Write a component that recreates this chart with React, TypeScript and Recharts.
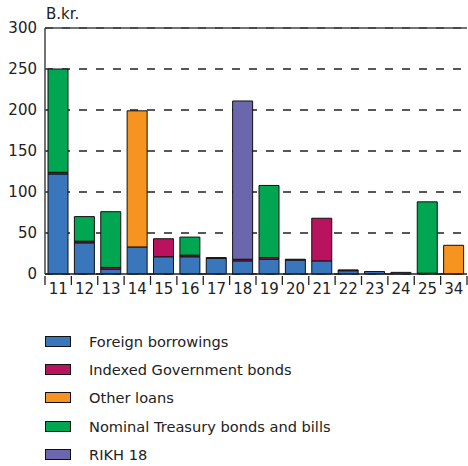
import { BarChart, Bar, XAxis, YAxis, CartesianGrid, ReferenceLine } from "recharts";

const categories = ["11", "12", "13", "14", "15", "16", "17", "18", "19", "20", "21", "22", "23", "24", "25", "34"];
const foreign = [122, 38, 6, 33, 21, 21, 19, 16, 18, 17, 16, 4, 3, 2, 1, 0];
const indexed = [2, 2, 2, 0, 22, 2, 1, 2, 2, 1, 52, 1, 0, 0, 0, 0];
const otherLoans = [0, 0, 0, 166, 0, 0, 0, 0, 0, 0, 0, 0, 0, 0, 0, 35];
const nominal = [126, 30, 68, 0, 0, 22, 0, 0, 88, 0, 0, 0, 0, 0, 87, 0];
const rikh = [0, 0, 0, 0, 0, 0, 0, 193, 0, 0, 0, 0, 0, 0, 0, 0];
const yTicks = [0, 50, 100, 150, 200, 250, 300];

const series = [
  { key: "foreign", name: "Foreign borrowings", color: "#3a76bb" },
  { key: "indexed", name: "Indexed Government bonds", color: "#b8135c" },
  { key: "other", name: "Other loans", color: "#f6941f" },
  { key: "nominal", name: "Nominal Treasury bonds and bills", color: "#00a651" },
  { key: "rikh", name: "RIKH 18", color: "#6c66ad" },
];

const data = categories.map((c, i) => ({
  name: c,
  foreign: foreign[i],
  indexed: indexed[i],
  other: otherLoans[i],
  nominal: nominal[i],
  rikh: rikh[i],
}));

const FONT = "'DejaVu Sans', sans-serif";
const CHART_W = 468;
const LEFT = 45;
const RIGHT = 1;
const BAND = (CHART_W - LEFT - RIGHT) / categories.length;

// eslint-disable-next-line @typescript-eslint/no-explicit-any
const XTick = ({ x, y, payload, index }: any) => {
  const isLast = index === categories.length - 1;
  return (
    <g>
      <line x1={x - BAND / 2} x2={x - BAND / 2} y1={y - 8} y2={y + 1} stroke="#222" strokeWidth={1.3} />
      {isLast && <line x1={x + BAND / 2} x2={x + BAND / 2} y1={y - 8} y2={y + 1} stroke="#222" strokeWidth={1.3} />}
      <text x={x} y={y + 10} textAnchor="middle" fill="#222" fontSize={15} fontFamily={FONT}>
        {payload.value}
      </text>
    </g>
  );
};

export default function App() {
  return (
    <div style={{ position: "absolute", left: 0, top: 0, width: 468, height: 466, background: "#fff", fontFamily: FONT }}>
      <div style={{ position: "absolute", left: 46, top: 5, fontSize: 15, color: "#222" }}>B.kr.</div>
      <BarChart
        width={CHART_W}
        height={310}
        data={data}
        margin={{ top: 28, right: RIGHT, left: 0, bottom: 10 }}
        barSize={20}
      >
        <CartesianGrid vertical={false} stroke="#222" strokeDasharray="8 9" strokeWidth={1.4} />
        <ReferenceLine y={300} stroke="#444" strokeWidth={1.5} />
        <XAxis
          dataKey="name"
          tickLine={false}
          tickSize={8}
          axisLine={{ stroke: "#222", strokeWidth: 1.5 }}
          tick={<XTick />}
          interval={0}
          height={26}
        />
        <YAxis
          width={LEFT}
          domain={[0, 300]}
          ticks={yTicks}
          tickLine={false}
          axisLine={{ stroke: "#444", strokeWidth: 1.5 }}
          tick={{ fill: "#222", fontSize: 15, fontFamily: FONT }}
          tickMargin={2}
        />
        {series.map((s) => (
          <Bar
            key={s.key}
            dataKey={s.key}
            name={s.name}
            stackId="a"
            fill={s.color}
            stroke="#111"
            strokeWidth={1}
            isAnimationActive={false}
          />
        ))}
      </BarChart>
      <div style={{ position: "absolute", left: 45, top: 327 }}>
        {series.map((s) => (
          <div key={s.key} style={{ display: "flex", alignItems: "center", height: 28.4 }}>
            <div style={{ width: 24, height: 9, background: s.color, border: "1px solid #111", marginRight: 18 }} />
            <span style={{ fontSize: 14.6, color: "#222", whiteSpace: "nowrap" }}>{s.name}</span>
          </div>
        ))}
      </div>
    </div>
  );
}
